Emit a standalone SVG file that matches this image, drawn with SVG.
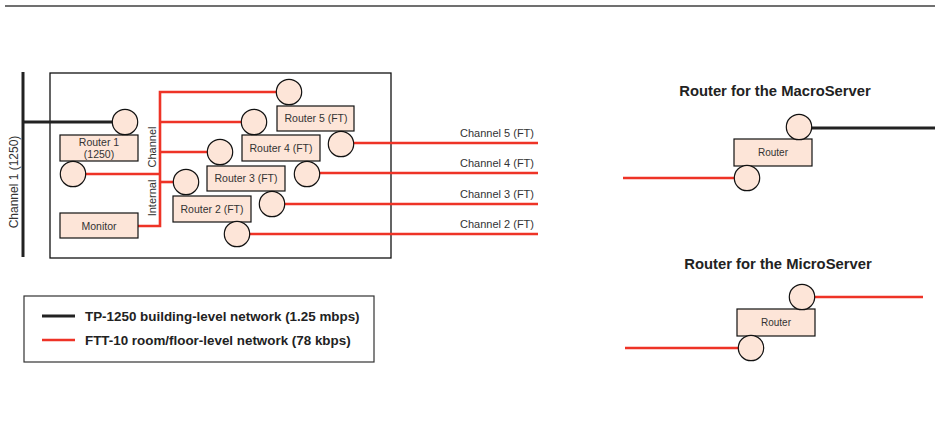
<svg xmlns="http://www.w3.org/2000/svg" width="935" height="438" viewBox="0 0 935 438">
<style>
.box{fill:#fde5d8;stroke:#111;stroke-width:1.2}
.port{fill:#fde5d8;stroke:#111;stroke-width:1.2}
.red{stroke:#ee3326;stroke-width:2.6;fill:none}
.blk{stroke:#222;stroke-width:3;fill:none}
.t{font-family:"Liberation Sans",Arial,sans-serif;fill:#333}
.lbl{font-size:10.5px;text-anchor:middle}
.ch{font-size:11px;text-anchor:end}
.title{font-size:14.8px;font-weight:bold;text-anchor:middle;fill:#222}
.leg{font-size:13.4px;font-weight:bold;fill:#222}
</style>
<line x1="5" y1="6" x2="935" y2="6" stroke="#707070" stroke-width="2"/>
<rect x="50" y="73" width="341" height="185" fill="none" stroke="#111" stroke-width="1.3"/>
<g id="connectors">
<line class="blk" x1="23" y1="72" x2="23" y2="257"/>
<line class="blk" x1="23" y1="122" x2="113" y2="122"/>
<polyline class="red" points="138,226 160,226 160,92 277,92"/>
<line class="red" x1="73" y1="174" x2="160" y2="174"/>
<line class="red" x1="160" y1="122" x2="254" y2="122"/>
<line class="red" x1="160" y1="152" x2="220" y2="152"/>
<line class="red" x1="160" y1="182" x2="186" y2="182"/>
<line class="red" x1="341" y1="143" x2="538" y2="143"/>
<line class="red" x1="307" y1="173" x2="538" y2="173"/>
<line class="red" x1="272" y1="204" x2="538" y2="204"/>
<line class="red" x1="237" y1="234" x2="538" y2="234"/>
<line class="blk" x1="799" y1="128" x2="935" y2="128"/>
<line class="red" x1="623" y1="178" x2="747" y2="178"/>
<line class="red" x1="802" y1="297" x2="923" y2="297"/>
<line class="red" x1="625" y1="348" x2="751" y2="348"/>
</g>
<text class="t" font-size="12" text-anchor="middle" transform="translate(18,182) rotate(-90)">Channel 1 (1250)</text>
<text class="t" font-size="11" text-anchor="middle" transform="translate(156,147) rotate(-90)">Channel</text>
<text class="t" font-size="11" text-anchor="middle" transform="translate(156,198) rotate(-90)">Internal</text>
<g id="router1">
<rect class="box" x="60" y="135" width="78" height="26"/>
<text class="t lbl" x="99" y="146">Router 1</text>
<text class="t lbl" x="99" y="158">(1250)</text>
<circle class="port" cx="125" cy="122" r="12.7"/>
<circle class="port" cx="73" cy="174" r="12.7"/>
</g>
<g id="monitor">
<rect class="box" x="60" y="213" width="78" height="25"/>
<text class="t lbl" x="99" y="229.5">Monitor</text>
</g>
<g id="router5">
<rect class="box" x="277" y="106" width="77" height="25"/>
<text class="t lbl" x="316" y="122">Router 5 (FT)</text>
<circle class="port" cx="289" cy="92" r="12.7"/>
<circle class="port" cx="341" cy="144" r="12.7"/>
</g>
<g id="router4">
<rect class="box" x="242" y="135" width="78" height="26"/>
<text class="t lbl" x="281" y="152">Router 4 (FT)</text>
<circle class="port" cx="254" cy="122" r="12.7"/>
<circle class="port" cx="307" cy="174" r="12.7"/>
</g>
<g id="router3">
<rect class="box" x="207" y="166" width="78" height="25"/>
<text class="t lbl" x="246" y="182">Router 3 (FT)</text>
<circle class="port" cx="220" cy="152" r="12.7"/>
<circle class="port" cx="272" cy="204" r="12.7"/>
</g>
<g id="router2">
<rect class="box" x="173" y="196" width="78" height="26"/>
<text class="t lbl" x="212" y="213">Router 2 (FT)</text>
<circle class="port" cx="186" cy="182" r="12.7"/>
<circle class="port" cx="237" cy="234" r="12.7"/>
</g>
<g id="channel-labels">
<text class="t ch" x="534" y="137">Channel 5 (FT)</text>
<text class="t ch" x="534" y="167">Channel 4 (FT)</text>
<text class="t ch" x="534" y="198">Channel 3 (FT)</text>
<text class="t ch" x="534" y="228">Channel 2 (FT)</text>
</g>
<g id="macro">
<text class="t title" x="775" y="96">Router for the MacroServer</text>
<rect class="box" x="734" y="139" width="78" height="27"/>
<text class="t" font-size="10" text-anchor="middle" x="773" y="156">Router</text>
<circle class="port" cx="799" cy="127" r="12.7"/>
<circle class="port" cx="747" cy="178" r="12.7"/>
</g>
<g id="micro">
<text class="t title" x="778" y="269">Router for the MicroServer</text>
<rect class="box" x="737" y="309" width="78" height="27"/>
<text class="t" font-size="10" text-anchor="middle" x="776" y="326">Router</text>
<circle class="port" cx="802" cy="297" r="12.7"/>
<circle class="port" cx="751" cy="348" r="12.7"/>
</g>
<g id="legend">
<rect x="24" y="296" width="350" height="66" fill="none" stroke="#333" stroke-width="1.2"/>
<line class="blk" x1="42" y1="316" x2="75" y2="316"/>
<line class="red" x1="42" y1="340" x2="75" y2="340"/>
<text class="t leg" x="85" y="321">TP-1250 building-level network (1.25 mbps)</text>
<text class="t leg" x="85" y="345">FTT-10 room/floor-level network (78 kbps)</text>
</g>
</svg>
